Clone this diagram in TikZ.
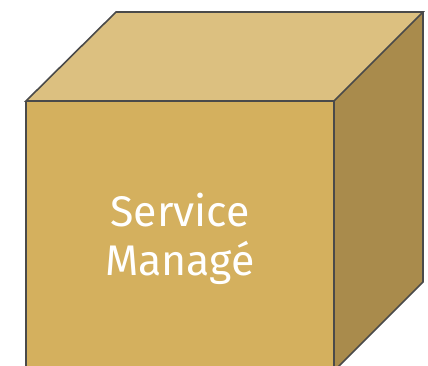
\documentclass[tikz,border=0pt]{standalone}
\usepackage{fontspec}
\setmainfont{Fira Sans}
\definecolor{frontc}{HTML}{D4B05E}
\definecolor{topc}{HTML}{DCC080}
\definecolor{sidec}{HTML}{A98B4C}
\definecolor{edgec}{HTML}{4A4A4A}
\begin{document}
\begin{tikzpicture}[x=1bp,y=-1bp,
  face/.style={draw=edgec,line width=1.6bp,line join=miter}]
\useasboundingbox (0,0) rectangle (428,366);
\clip (0,0) rectangle (428,366);
\coordinate (A) at (26,101);
\coordinate (B) at (334,101);
\coordinate (C) at (116,12);
\coordinate (D) at (423,12);
\coordinate (E) at (423,282);
\coordinate (F) at (334,371);
\coordinate (G) at (26,371);
\fill[topc] (A) -- (C) -- (D) -- (B) -- cycle;
\fill[sidec] (B) -- (D) -- (E) -- (F) -- cycle;
\fill[frontc] (A) -- (B) -- (F) -- (G) -- cycle;
\draw[face] (A) -- (C) -- (D) -- (B) -- cycle;
\draw[face] (D) -- (E) -- (F) -- (B);
\draw[face] (A) -- (G);
\node[text=white,font=\fontsize{43}{49}\selectfont,align=center] (t) at (180,239) {Service\\Managé};
\end{tikzpicture}
\end{document}
